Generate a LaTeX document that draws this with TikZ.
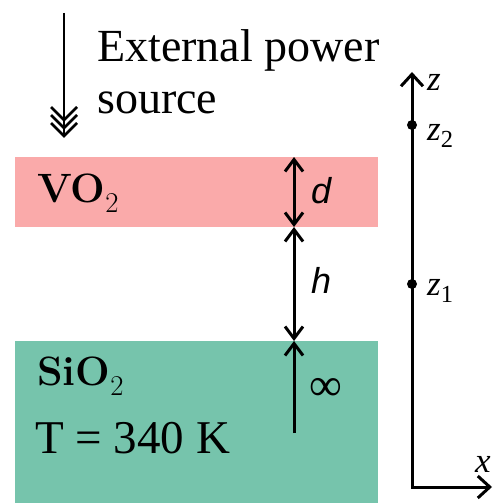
\documentclass[tikz,border=0pt]{standalone}
\usepackage{fontspec}
\setmainfont{Liberation Serif}
\setsansfont{Liberation Sans}
\newfontfamily\lmfont{Latin Modern Roman}
\usepackage{xcolor}
\usetikzlibrary{arrows.meta}
\definecolor{vopink}{RGB}{250,170,170}
\definecolor{siogreen}{RGB}{118,196,172}

\begin{document}
\begin{tikzpicture}[x=1pt, y=-1pt, >={Straight Barb[length=12pt,width=18pt]},
    every node/.style={inner sep=0pt},
    dimline/.style={line width=3pt},
    axisline/.style={line width=3pt, >={Straight Barb[length=12pt,width=22pt]}},
    bigtext/.style={font=\fontsize{46}{51}\selectfont},
    layertext/.style={font=\lmfont\bfseries\fontsize{41}{41}\selectfont},
    coordlbl/.style={font=\fontsize{35}{35}\selectfont\itshape},
    dimlbl/.style={font=\sffamily\fontsize{36}{36}\selectfont\itshape}]
    \useasboundingbox (0,0) rectangle (493,503);

    % Layers
    \fill[vopink] (15,157) rectangle (378,227);
    \fill[siogreen] (15,341) rectangle (378,503);
    \node[layertext, anchor=base west] (vo) at (37,202) {VO\textsubscript{\mdseries 2}};
    \node[layertext, anchor=base west] (sio) at (37,385) {SiO\textsubscript{\mdseries 2}};
    \node[font=\fontsize{47}{47}\selectfont, anchor=base west] (temp) at (35,453) {T = 340 K};

    % External power source
    \node[bigtext, anchor=base west] (ext1) at (97,62) {External power};
    \node[bigtext, anchor=base west] (ext2) at (97,113) {source};
    \coordinate (src) at (64,13);
    \coordinate (srcend) at (64,136);
    \draw[line width=2.2pt] (src) -- (srcend);
    \foreach \dy in {0,8,16}
        \draw[line width=2.8pt] ([shift={(-13,-13-\dy)}]srcend) -- ([shift={(0,-\dy)}]srcend) -- ([shift={(13,-13-\dy)}]srcend);

    % Thicknesses
    \coordinate (dtop) at (294,157);
    \coordinate (dbot) at (294,227);
    \coordinate (hbot) at (294,341);
    \coordinate (inf) at (294,433);
    \draw[dimline, <->] (dtop) -- (dbot);
    \draw[dimline, <->] (dbot) -- (hbot);
    \draw[dimline, ->] (inf) -- (hbot);
    \node[dimlbl, anchor=base west] (d) at (311,203) {d};
    \node[dimlbl, anchor=base west] (h) at (311,293) {h};
    \node[font=\fontsize{46}{46}\selectfont] (infty) at (326,389) {∞};

    % Axes
    \coordinate (O) at (412,487);
    \coordinate (ztip) at (412,72);
    \coordinate (xtip) at (492,487);
    \draw[axisline, <->] (ztip) -- (O) -- (xtip);
    \coordinate (z2) at (412,125);
    \coordinate (z1) at (412,284);
    \fill (z2) circle (5pt);
    \fill (z1) circle (5pt);
    \node[coordlbl, anchor=base west] (zlbl) at (427,90) {z};
    \node[coordlbl, anchor=base west] (z2lbl) at (427,140) {z\textsubscript{\upshape 2}};
    \node[coordlbl, anchor=base west] (z1lbl) at (427,295) {z\textsubscript{\upshape 1}};
    \node[coordlbl, anchor=base west] (xlbl) at (475,472) {x};
\end{tikzpicture}
\end{document}
